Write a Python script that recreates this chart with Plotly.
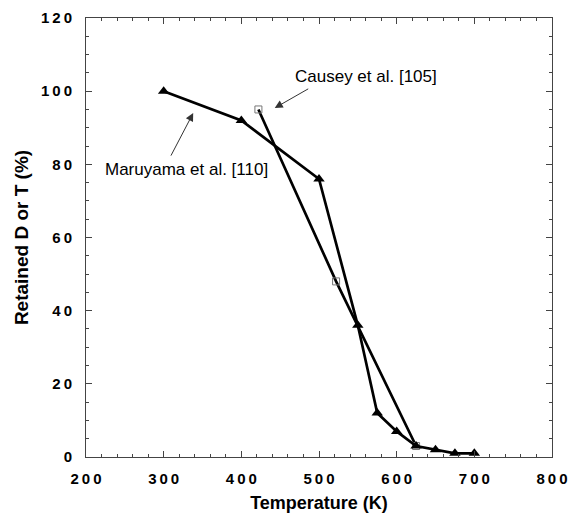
import plotly.graph_objects as go

maruyama_T = [300, 400, 500, 550, 575, 600, 625, 650, 675, 700]
maruyama_R = [100, 92, 76, 36, 12, 7, 3, 2, 1, 1]
causey_T = [422, 522, 625]
causey_R = [95, 48, 3]

x_ticks = [200, 300, 400, 500, 600, 700, 800]
y_ticks = [0, 20, 40, 60, 80, 100, 120]

def spaced(v):
    return "\u2009".join(str(v))

fig = go.Figure()
fig.add_trace(go.Scatter(x=causey_T, y=causey_R, mode="lines+markers",
                         line=dict(color="black", width=2.7),
                         marker=dict(symbol="square-open", size=7, color="#777777",
                                     line=dict(width=1, color="#777777")),
                         showlegend=False))
fig.add_trace(go.Scatter(x=maruyama_T, y=maruyama_R, mode="lines+markers",
                         line=dict(color="black", width=2.7),
                         marker=dict(symbol="triangle-up", size=10, color="black"),
                         showlegend=False))

axis_common = dict(showline=True, linecolor="#444444", linewidth=1, mirror="allticks",
                   ticks="inside", ticklen=6, tickcolor="#444444", showgrid=False,
                   zeroline=False, automargin=False,
                   tickfont=dict(family="Arial", size=15, color="black", weight="bold"))

fig.update_xaxes(range=[200, 800], tickvals=x_ticks, ticktext=[spaced(v) for v in x_ticks],
                 ticklabelstandoff=8,
                 minor=dict(dtick=20, ticks="inside", ticklen=3, tickcolor="#444444"),
                 title=dict(text="Temperature (K)", standoff=10,
                            font=dict(family="Arial", size=18, color="black", weight="bold")),
                 **axis_common)
fig.update_yaxes(range=[0, 120], tickvals=y_ticks, ticktext=[spaced(v) for v in y_ticks],
                 ticklabelstandoff=10,
                 minor=dict(dtick=5, ticks="inside", ticklen=3, tickcolor="#444444"),
                 title=dict(text="Retained D or T (%)", standoff=7,
                            font=dict(family="Arial", size=19, color="black", weight="bold")),
                 **axis_common)

fig.add_annotation(x=443, y=95.4, ax=35, ay=-20,
                   xref="x", yref="y", text="", showarrow=True, arrowhead=2,
                   arrowsize=1.6, arrowwidth=1, arrowcolor="#333333")
fig.add_annotation(x=466, y=104.1, xref="x", yref="y", text="Causey et al. [105]",
                   showarrow=False, xanchor="left", yanchor="middle",
                   font=dict(family="Arial", size=17, color="black"))
fig.add_annotation(x=338, y=94, ax=-23, ay=44,
                   xref="x", yref="y", text="", showarrow=True, arrowhead=2,
                   arrowsize=1.6, arrowwidth=1, arrowcolor="#333333")
fig.add_annotation(x=222, y=78.5, xref="x", yref="y", text="Maruyama et al. [110]",
                   showarrow=False, xanchor="left", yanchor="middle",
                   font=dict(family="Arial", size=17, color="black"))

fig.update_layout(width=581, height=518, margin=dict(l=86, r=29, t=18, b=61),
                  plot_bgcolor="white", paper_bgcolor="white")
fig.write_html("out.html")
